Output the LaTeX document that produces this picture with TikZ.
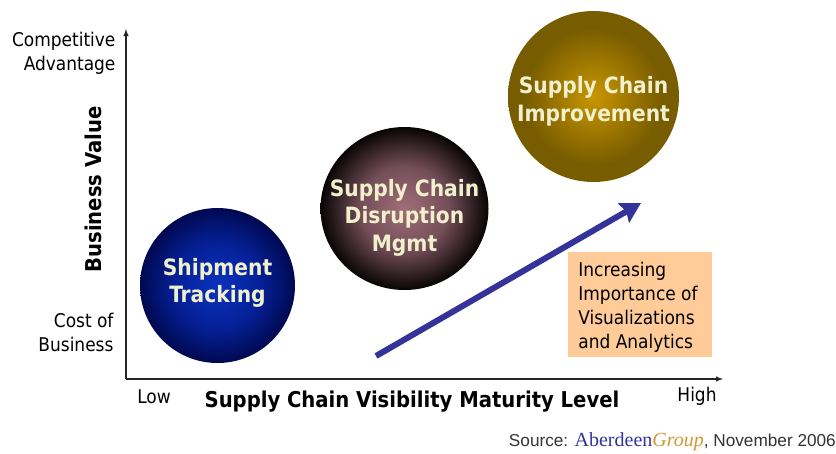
\documentclass[tikz,border=0pt]{standalone}
\usepackage{fontspec}
\usetikzlibrary{arrows.meta,shapes.geometric}
\setmainfont{DejaVu Sans Condensed}
\newfontfamily\sourcefont{Liberation Sans}
\newfontfamily\brandfont{Liberation Serif}
\definecolor{arrowblue}{RGB}{51,51,153}
\definecolor{notefill}{RGB}{255,204,153}
\definecolor{balltext}{RGB}{240,240,205}
\definecolor{groupgold}{RGB}{204,153,51}
\definecolor{bluemid}{RGB}{10,50,190}
\definecolor{bluehalf}{RGB}{5,32,150}
\definecolor{blueedge}{RGB}{0,8,80}
\definecolor{maroonmid}{RGB}{160,110,120}
\definecolor{maroonhalf}{RGB}{115,78,88}
\definecolor{maroonedge}{RGB}{8,4,4}
\definecolor{goldmid}{RGB}{200,150,0}
\definecolor{goldedge}{RGB}{120,92,0}
\pgfdeclareradialshading{blueball}{\pgfpoint{0bp}{0bp}}{color(0bp)=(bluemid);color(14bp)=(bluehalf);color(25bp)=(blueedge);color(50bp)=(blueedge)}
\pgfdeclareradialshading{maroonball}{\pgfpoint{0bp}{0bp}}{color(0bp)=(maroonmid);color(13bp)=(maroonhalf);color(25bp)=(maroonedge);color(50bp)=(maroonedge)}
\pgfdeclareradialshading{goldball}{\pgfpoint{0bp}{0bp}}{color(0bp)=(goldmid);color(20bp)=(goldedge);color(50bp)=(goldedge)}
\tikzset{
  ball/.style={ellipse,inner sep=0pt},
  balllabel/.style={align=center,text=balltext,font=\bfseries\fontsize{22.5}{27.5}\selectfont},
  axislabel/.style={font=\fontsize{18.9}{24}\selectfont},
  axistitle/.style={font=\bfseries\fontsize{21.8}{24}\selectfont},
  axisline/.style={-latex,line width=1.4pt,black!85},
}
\begin{document}
\begin{tikzpicture}[x=1pt,y=-1pt]
        \useasboundingbox (0,0) rectangle (836,453);
        \coordinate (origin) at (126,379);
        \coordinate (ytip)   at (126,29);
        \coordinate (xtip)   at (723,379);
        \coordinate (start)  at (376,356);
        \coordinate (end)    at (641,203);
        \draw[axisline] (origin) -- (ytip);
        \draw[axisline] (origin) -- (xtip);
        \node[ball,minimum width=155pt,minimum height=155pt,shading=blueball,
          label={[balllabel,yshift=2.5pt,name=shipmenttext]center:Shipment\\Tracking}] (shipment) at (217.5,285.5) {};
        \node[ball,minimum width=168pt,minimum height=163pt,shading=maroonball,
          label={[balllabel,yshift=-9pt,name=disruptiontext]center:Supply Chain\\Disruption\\Mgmt}] (disruption) at (404.5,208.5) {};
        \node[ball,minimum width=171pt,minimum height=171pt,shading=goldball,
          label={[balllabel,yshift=-5pt,name=improvementtext]center:Supply Chain\\Improvement}] (improvement) at (593.5,96.5) {};
        \draw[-{Stealth[length=20pt,width=22pt,inset=3pt]},line width=6pt,arrowblue] (start) -- (end);
        \node[fill=notefill,minimum width=144pt,minimum height=105pt,inner sep=0pt,
          label={[axislabel,align=left,xshift=-2pt,yshift=-3pt,name=notetext]center:Increasing\\Importance of\\Visualizations\\and Analytics}] (note) at (640,304.5) {};
        \node[axislabel,align=right,anchor=east] (competitive) at (119,53) {Competitive\\Advantage};
        \node[axislabel,align=right,anchor=east] (cost) at (117,332) {Cost of\\Business};
        \node[axislabel] (low) at (154,397) {Low};
        \node[axislabel] (high) at (697,396) {High};
        \node[axistitle,rotate=90] (value) at (93,189.5) {Business Value};
        \node[axistitle] (maturity) at (412,402) {Supply Chain Visibility Maturity Level};
        \node[anchor=east,font=\sourcefont\fontsize{17.2}{20}\selectfont,black!80,inner sep=0pt] (source) at (836,442) {Source: {\brandfont\fontsize{20}{20}\selectfont\color{arrowblue}Aberdeen\color{groupgold}\itshape Group}, November 2006};
\end{tikzpicture}
\end{document}
